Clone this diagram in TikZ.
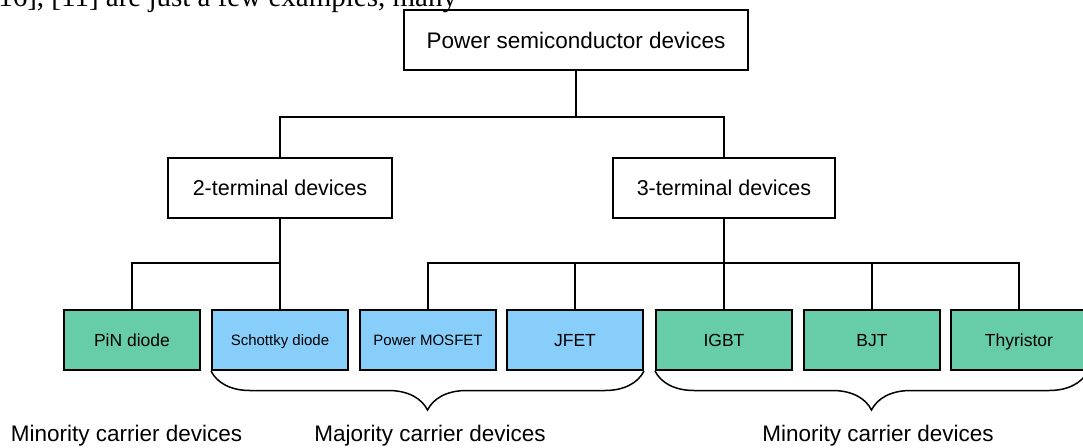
\documentclass[tikz,border=0pt]{standalone}
\usepackage{fontspec}
\setmainfont{Liberation Sans}
\newfontfamily\proseserif{Liberation Serif}
\usetikzlibrary{decorations.pathreplacing}
\definecolor{minoritygreen}{RGB}{102,205,168}
\definecolor{majorityblue}{RGB}{135,206,250}

\begin{document}
\begin{tikzpicture}[x=1pt,y=-1pt,line width=2pt,
	box/.style={draw,rectangle,inner sep=0pt,minimum height=60pt,text depth=0pt},
	bigbox/.style={box,font=\fontsize{22.5}{26}\selectfont,text height=16.1pt},
	midbox/.style={box,minimum width=222pt,font=\fontsize{21.5}{25}\selectfont,text height=15.4pt},
	dev/.style={box,minimum width=136pt,font=\fontsize{17.5}{20}\selectfont,text height=12.5pt},
	devsmall/.style={dev,font=\fontsize{15}{18}\selectfont,text height=10.7pt},
	brc/.style={decorate,decoration={brace,mirror,amplitude=39pt},line width=1.5pt},
	lbl/.style={anchor=base,inner sep=0pt,font=\fontsize{22.5}{26}\selectfont}]
		\useasboundingbox (0,0) rectangle (1083,447);
		\clip (0,0) rectangle (1083,447);
		% cut-off line of the page above
		\node[anchor=base east,inner sep=0pt,font=\proseserif\fontsize{29}{32}\selectfont] (prose) at (458,6.5) {16], [11] are just a few examples, many};
		% tree
		\node[bigbox,minimum width=344pt] (psd) at (576,40) {Power semiconductor devices};
		\node[midbox,minimum width=224pt] (twoterm) at (280,188) {2-terminal devices};
		\node[midbox] (threeterm) at (724,188) {3-terminal devices};
		\node[dev,fill=minoritygreen] (pin) at (132,340) {PiN diode};
		\node[devsmall,fill=majorityblue] (schottky) at (280,340) {Schottky diode};
		\node[devsmall,fill=majorityblue] (mosfet) at (428,340) {Power MOSFET};
		\node[dev,fill=majorityblue] (jfet) at (575,340) {JFET};
		\node[dev,fill=minoritygreen] (igbt) at (724,340) {IGBT};
		\node[dev,fill=minoritygreen] (bjt) at (872,340) {BJT};
		\node[dev,fill=minoritygreen] (thyr) at (1019,340) {Thyristor};
		% connectors
		\coordinate (topbar) at (576,117);
		\coordinate (leftbar) at (280,263);
		\coordinate (rightbar) at (724,263);
		\draw (psd) -- (topbar);
		\draw (twoterm.north) |- (topbar) -| (threeterm.north);
		\draw (twoterm) -- (schottky);
		\draw (pin.north) |- (leftbar);
		\draw (threeterm) -- (igbt);
		\draw (mosfet.north) |- (rightbar) -| (thyr.north);
		\draw (jfet.north) -- (jfet.north |- rightbar);
		\draw (bjt.north) -- (bjt.north |- rightbar);
		% braces and carrier labels
		\draw[brc] (schottky.south west) -- (jfet.south east);
		\draw[brc] (igbt.south west) -- (thyr.south east);
		\node[lbl] (minleft) at (126.5,441) {Minority carrier devices};
		\node[lbl] (majority) at (430,441) {Majority carrier devices};
		\node[lbl] (minright) at (878,441) {Minority carrier devices};
\end{tikzpicture}
\end{document}
